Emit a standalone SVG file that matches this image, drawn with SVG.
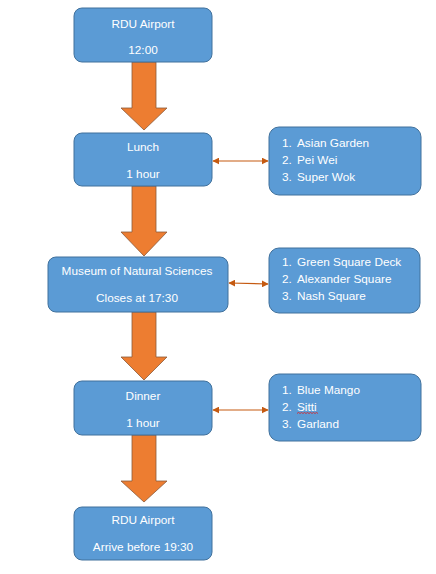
<svg xmlns="http://www.w3.org/2000/svg" width="436" height="574" viewBox="0 0 436 574">
<defs>
<style>
.box{fill:#5B9BD5;stroke:#41719C;stroke-width:1}
.t{font-family:"Liberation Sans",Arial,sans-serif;font-size:11.8px;fill:#fff}
.c{text-anchor:middle}
.big{fill:#ED7D31;stroke:#8C5A3A;stroke-width:0.8}
.con{stroke:#C55A11;stroke-width:1.2;fill:none}
</style>
<marker id="ah" viewBox="0 0 10 10" refX="9" refY="5" markerWidth="7" markerHeight="7" markerUnits="userSpaceOnUse" orient="auto-start-reverse">
<path d="M0,0 L10,5 L0,10 z" fill="#C55A11"/>
</marker>
</defs>
<rect width="436" height="574" fill="#fff"/>
<g id="flow-arrows">
<path class="big" d="M132,62 H156 V108 H167 L144,130 L121,108 H132 Z"/>
<path class="big" d="M132,186 H156 V232 H167 L144,256 L121,232 H132 Z"/>
<path class="big" d="M132,312 H156 V357 H167 L144,380 L121,357 H132 Z"/>
<path class="big" d="M132,435 H156 V481 H167 L144,502 L121,481 H132 Z"/>
</g>
<g id="connectors">
<line class="con" x1="213" y1="161" x2="268" y2="161" marker-start="url(#ah)" marker-end="url(#ah)"/>
<line class="con" x1="229" y1="283" x2="268" y2="284" marker-start="url(#ah)" marker-end="url(#ah)"/>
<line class="con" x1="213" y1="410" x2="268" y2="410" marker-start="url(#ah)" marker-end="url(#ah)"/>
</g>
<g id="n1">
<rect class="box" x="74" y="8" width="138" height="54" rx="8"/>
<text class="t c" x="143" y="28">RDU Airport</text>
<text class="t c" x="143" y="54">12:00</text>
</g>
<g id="n2">
<rect class="box" x="74" y="133" width="138" height="53" rx="8"/>
<text class="t c" x="143" y="151">Lunch</text>
<text class="t c" x="143" y="178">1 hour</text>
</g>
<g id="n3">
<rect class="box" x="48" y="257" width="180" height="55" rx="8"/>
<text class="t c" x="137" y="275">Museum of Natural Sciences</text>
<text class="t c" x="137" y="302">Closes at 17:30</text>
</g>
<g id="n4">
<rect class="box" x="74" y="381" width="138" height="54" rx="8"/>
<text class="t c" x="143" y="400">Dinner</text>
<text class="t c" x="143" y="427">1 hour</text>
</g>
<g id="n5">
<rect class="box" x="74" y="507" width="138" height="53" rx="8"/>
<text class="t c" x="143" y="524">RDU Airport</text>
<text class="t c" x="143" y="551">Arrive before 19:30</text>
</g>
<g id="l1">
<rect class="box" x="269" y="127" width="152" height="68" rx="10"/>
<text class="t" x="282" y="147">1.</text><text class="t" x="297" y="147">Asian Garden</text>
<text class="t" x="282" y="164">2.</text><text class="t" x="297" y="164">Pei Wei</text>
<text class="t" x="282" y="181">3.</text><text class="t" x="297" y="181">Super Wok</text>
</g>
<g id="l2">
<rect class="box" x="269" y="248" width="151" height="65" rx="10"/>
<text class="t" x="282" y="266">1.</text><text class="t" x="297" y="266">Green Square Deck</text>
<text class="t" x="282" y="283">2.</text><text class="t" x="297" y="283">Alexander Square</text>
<text class="t" x="282" y="300">3.</text><text class="t" x="297" y="300">Nash Square</text>
</g>
<g id="l3">
<rect class="box" x="269" y="374" width="152" height="67" rx="10"/>
<text class="t" x="282" y="394">1.</text><text class="t" x="297" y="394">Blue Mango</text>
<text class="t" x="282" y="411">2.</text><text class="t" x="297" y="411">Sitti</text>
<text class="t" x="282" y="428">3.</text><text class="t" x="297" y="428">Garland</text>
<path d="M297,413.5 l1.5,-1 l1.5,1 l1.5,-1 l1.5,1 l1.5,-1 l1.5,1 l1.5,-1 l1.5,1 l1.5,-1 l1.5,1 l1.5,-1 l1.5,1 l1.5,-1 l1.5,1" fill="none" stroke="#E02020" stroke-width="0.8"/>
</g>
</svg>
